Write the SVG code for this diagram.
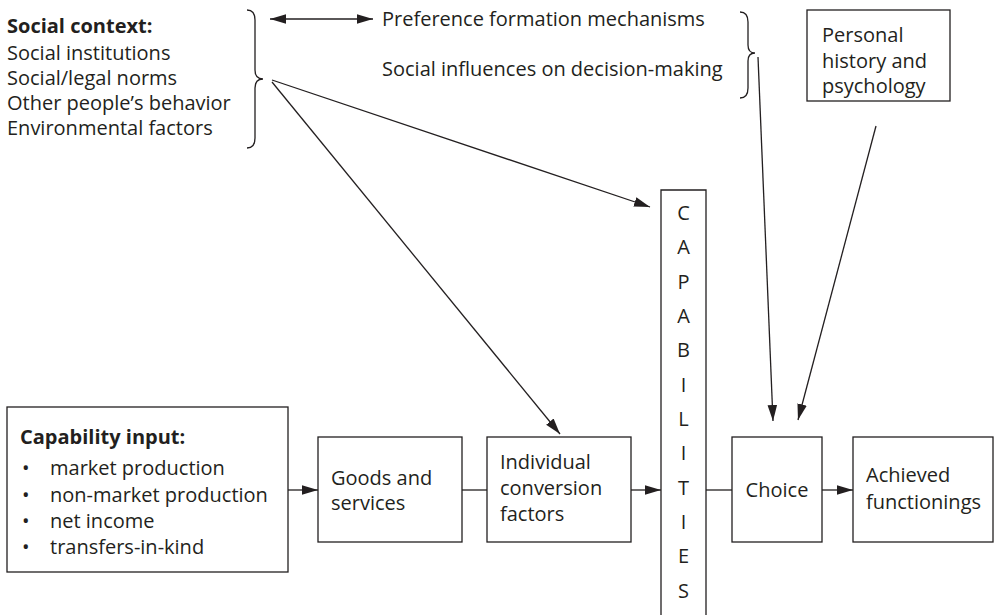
<svg xmlns="http://www.w3.org/2000/svg" width="996" height="615" viewBox="0 0 996 615">
<defs>
<marker id="ah" viewBox="0 0 10 10" refX="10" refY="5" markerWidth="16" markerHeight="16" markerUnits="userSpaceOnUse" orient="auto-start-reverse">
<path d="M0,2 L10,5 L0,8 z" fill="#231f20"/>
</marker>
<style>
text{font-family:"Open Sans","Liberation Sans",sans-serif;font-size:20px;fill:#231f20}
.b{font-weight:bold}
.box{fill:none;stroke:#231f20;stroke-width:1.3}
.ln{fill:none;stroke:#231f20;stroke-width:1.3}
.c{text-anchor:middle}
</style>
</defs>
<rect width="996" height="615" fill="#fff"/>
<g id="social-context">
<text class="b" x="7" y="33">Social context:</text>
<text x="7" y="60">Social institutions</text>
<text x="7" y="85">Social/legal norms</text>
<text x="7" y="110">Other people’s behavior</text>
<text x="7" y="135">Environmental factors</text>
<path class="ln" d="M247,10 Q255,10 255,20 L255,70 Q255,79 263,79 Q255,79 255,88 L255,138 Q255,148 247,148"/>
</g>
<g id="preference">
<text x="382" y="26">Preference formation mechanisms</text>
<text x="382" y="76">Social influences on decision-making</text>
<path class="ln" d="M740,12 Q748,12 748,22 L748,45 Q748,53 755,53 Q748,53 748,61 L748,88 Q748,98 740,98"/>
</g>
<g id="personal">
<rect class="box" x="807" y="10" width="143" height="91"/>
<text x="822" y="42">Personal</text>
<text x="822" y="68">history and</text>
<text x="822" y="93">psychology</text>
</g>
<g id="capability-input">
<rect class="box" x="7" y="407" width="281" height="165"/>
<text class="b" x="20" y="444">Capability input:</text>
<text x="22" y="475">•</text><text x="50" y="475">market production</text>
<text x="22" y="502">•</text><text x="50" y="502">non-market production</text>
<text x="22" y="528">•</text><text x="50" y="528">net income</text>
<text x="22" y="554">•</text><text x="50" y="554">transfers-in-kind</text>
</g>
<g id="goods">
<rect class="box" x="318" y="437" width="144" height="105"/>
<text x="331" y="485">Goods and</text>
<text x="331" y="510">services</text>
</g>
<g id="conversion">
<rect class="box" x="487" y="437" width="144" height="105"/>
<text x="500" y="469">Individual</text>
<text x="500" y="495">conversion</text>
<text x="500" y="521">factors</text>
</g>
<g id="capabilities">
<path class="box" d="M661,615 L661,190 L706,190 L706,615"/>
<text class="c" x="683.5" y="220">C</text>
<text class="c" x="683.5" y="254">A</text>
<text class="c" x="683.5" y="289">P</text>
<text class="c" x="683.5" y="323">A</text>
<text class="c" x="683.5" y="357">B</text>
<text class="c" x="683.5" y="392">I</text>
<text class="c" x="683.5" y="426">L</text>
<text class="c" x="683.5" y="460">I</text>
<text class="c" x="683.5" y="495">T</text>
<text class="c" x="683.5" y="529">I</text>
<text class="c" x="683.5" y="563">E</text>
<text class="c" x="683.5" y="598">S</text>
</g>
<g id="choice">
<rect class="box" x="732" y="437" width="90" height="105"/>
<text class="c" x="777" y="497">Choice</text>
</g>
<g id="achieved">
<rect class="box" x="853" y="437" width="140" height="105"/>
<text x="866" y="482">Achieved</text>
<text x="866" y="509">functionings</text>
</g>
<g id="connectors">
<line class="ln" x1="270" y1="19" x2="373" y2="19" marker-start="url(#ah)" marker-end="url(#ah)"/>
<line class="ln" x1="272" y1="80" x2="650" y2="207" marker-end="url(#ah)"/>
<line class="ln" x1="272" y1="82" x2="560" y2="434" marker-end="url(#ah)"/>
<line class="ln" x1="758" y1="57" x2="773" y2="421" marker-end="url(#ah)"/>
<line class="ln" x1="876" y1="126" x2="798" y2="420" marker-end="url(#ah)"/>
<line class="ln" x1="288" y1="490" x2="318" y2="490" marker-end="url(#ah)"/>
<line class="ln" x1="462" y1="490" x2="487" y2="490"/>
<line class="ln" x1="631" y1="490" x2="661" y2="490" marker-end="url(#ah)"/>
<line class="ln" x1="706" y1="490" x2="732" y2="490"/>
<line class="ln" x1="822" y1="490" x2="853" y2="490" marker-end="url(#ah)"/>
</g>
</svg>
